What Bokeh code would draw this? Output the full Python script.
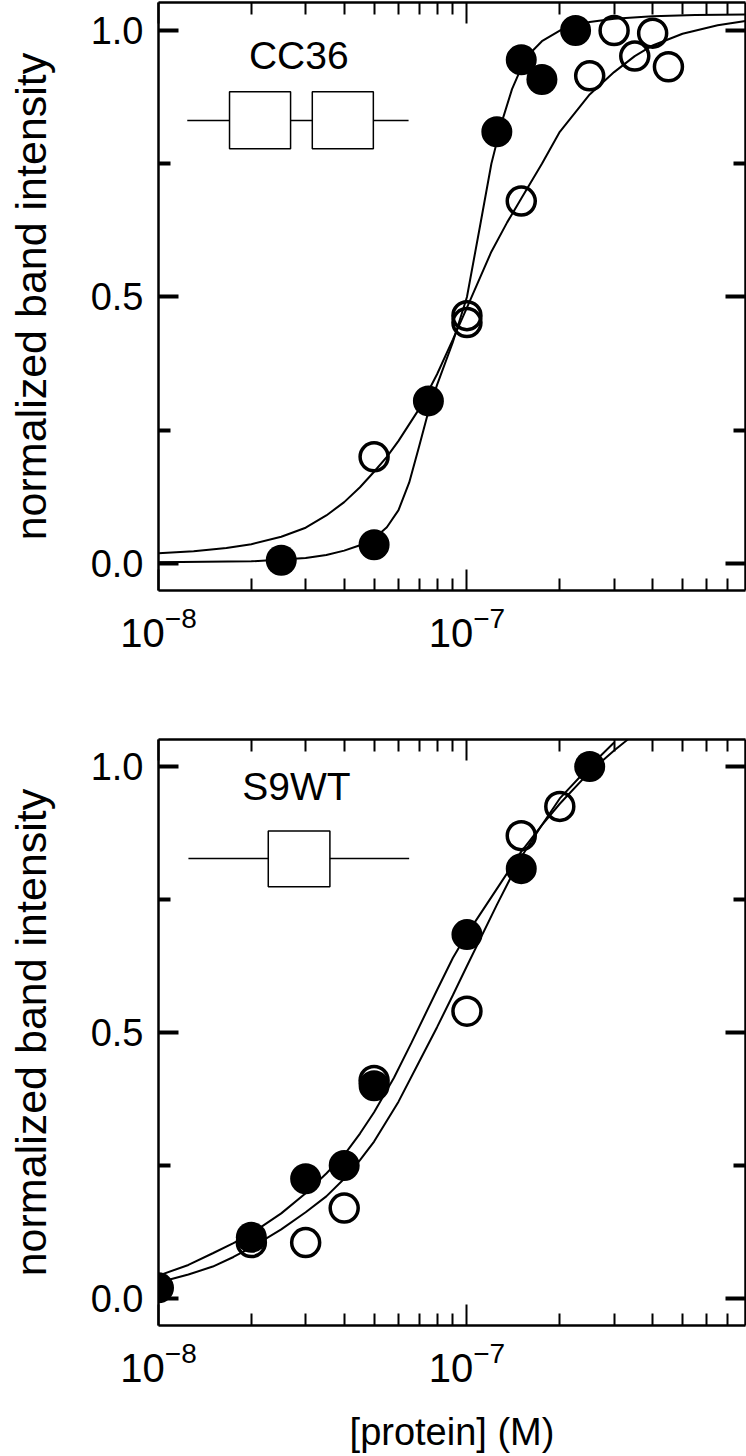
from bokeh.plotting import figure
from bokeh.models import (Range1d, LinearAxis, LogAxis, FixedTicker,
                          PrintfTickFormatter, LinearScale)
from bokeh.layouts import column
from bokeh.embed import file_html
from bokeh.resources import INLINE
from bokeh.core.properties import value

FONT = "Liberation Sans"

# ---------------- data ----------------
# Panel 1: CC36
cc36_filled_x = [2.5e-8, 5.0e-8, 7.5e-8, 1.25e-7, 1.5e-7, 1.75e-7, 2.25e-7]
cc36_filled_y = [0.006, 0.035, 0.305, 0.81, 0.945, 0.908, 1.0]
cc36_open_x = [5.0e-8, 1.0e-7, 1.0e-7, 1.5e-7, 2.5e-7, 3.0e-7, 3.5e-7, 4.0e-7, 4.5e-7]
cc36_open_y = [0.20, 0.465, 0.452, 0.68, 0.915, 1.0, 0.952, 0.995, 0.932]
cc36_fit_filled_x = [1.0e-8, 2.0e-8, 3.0e-8, 3.5e-8, 4.0e-8, 4.5e-8, 5.0e-8, 5.5e-8,
                     6.0e-8, 6.5e-8, 7.0e-8, 7.5e-8, 8.0e-8, 9.0e-8, 1.0e-7, 1.1e-7,
                     1.2e-7, 1.3e-7, 1.4e-7, 1.5e-7, 1.6e-7, 1.75e-7, 2.0e-7, 2.5e-7,
                     3.0e-7, 4.0e-7, 5.5e-7, 8.0e-7]
cc36_fit_filled_y = [0.002, 0.004, 0.010, 0.016, 0.024, 0.034, 0.047, 0.068,
                     0.100, 0.152, 0.220, 0.285, 0.335, 0.415, 0.500, 0.630,
                     0.750, 0.830, 0.890, 0.930, 0.957, 0.980, 1.000, 1.016,
                     1.022, 1.027, 1.029, 1.030]
cc36_fit_open_x = [1.0e-8, 1.3e-8, 1.66e-8, 2.0e-8, 2.5e-8, 3.0e-8, 3.5e-8, 4.0e-8,
                   4.5e-8, 5.0e-8, 5.5e-8, 6.0e-8, 7.0e-8, 8.0e-8, 9.0e-8, 1.0e-7,
                   1.1e-7, 1.2e-7, 1.35e-7, 1.5e-7, 1.75e-7, 2.0e-7, 2.5e-7, 3.0e-7,
                   3.5e-7, 4.0e-7, 5.0e-7, 6.5e-7, 8.0e-7]
cc36_fit_open_y = [0.019, 0.023, 0.029, 0.036, 0.050, 0.067, 0.090, 0.115,
                   0.143, 0.172, 0.200, 0.230, 0.290, 0.355, 0.420, 0.480,
                   0.535, 0.585, 0.640, 0.685, 0.750, 0.810, 0.880, 0.922,
                   0.952, 0.972, 0.994, 1.010, 1.018]

# Panel 2: S9WT
s9wt_filled_x = [1.0e-8, 2.0e-8, 3.0e-8, 4.0e-8, 5.0e-8, 1.0e-7, 1.5e-7, 2.5e-7]
s9wt_filled_y = [0.02, 0.115, 0.225, 0.25, 0.40, 0.684, 0.808, 1.0]
s9wt_open_x = [2.0e-8, 3.0e-8, 4.0e-8, 5.0e-8, 1.0e-7, 1.5e-7, 2.0e-7]
s9wt_open_y = [0.105, 0.105, 0.17, 0.41, 0.54, 0.87, 0.925]
s9wt_fit_filled_x = [1.0e-8, 1.25e-8, 1.5e-8, 1.75e-8, 2.0e-8, 2.5e-8, 3.0e-8, 3.5e-8,
                     4.0e-8, 4.5e-8, 5.0e-8, 5.8e-8, 6.6e-8, 8.0e-8, 9.0e-8, 1.0e-7,
                     1.25e-7, 1.5e-7, 1.75e-7, 2.0e-7, 2.5e-7, 3.0e-7, 3.36e-7]
s9wt_fit_filled_y = [0.043, 0.063, 0.085, 0.104, 0.122, 0.160, 0.198, 0.235,
                     0.270, 0.310, 0.350, 0.415, 0.480, 0.580, 0.640, 0.685,
                     0.770, 0.840, 0.890, 0.930, 0.990, 1.030, 1.053]
s9wt_fit_open_x = [1.0e-8, 1.25e-8, 1.5e-8, 1.75e-8, 2.0e-8, 2.5e-8, 3.0e-8, 3.5e-8,
                   4.0e-8, 4.5e-8, 5.0e-8, 6.0e-8, 7.0e-8, 8.0e-8, 9.0e-8, 1.0e-7,
                   1.25e-7, 1.5e-7, 1.75e-7, 2.0e-7, 2.5e-7, 3.0e-7]
s9wt_fit_open_y = [0.030, 0.045, 0.060, 0.078, 0.096, 0.130, 0.162, 0.192,
                   0.225, 0.260, 0.295, 0.370, 0.445, 0.510, 0.570, 0.625,
                   0.740, 0.830, 0.890, 0.940, 1.000, 1.045]

# ticks / labels
x_major_ticks = [1e-8, 1e-7]
x_minor_ticks = [2e-8, 3e-8, 4e-8, 5e-8, 6e-8, 7e-8, 8e-8, 9e-8,
                 2e-7, 3e-7, 4e-7, 5e-7, 6e-7, 7e-7]
y_major_ticks = [0.0, 0.5, 1.0]
y_minor_ticks = [0.25, 0.75]
y_label_text = "normalized band intensity"
x_label_text = "[protein] (M)"
panel_names = ["CC36", "S9WT"]

# ---------------- layout constants ----------------
X_MIN, X_MAX = 1e-8, 8e-7
WIDTH = 746


def style_x(ax, labels):
    ax.ticker = FixedTicker(ticks=x_major_ticks, minor_ticks=x_minor_ticks)
    ax.axis_line_width = 2.5
    ax.axis_line_color = "black"
    ax.major_tick_in = 21
    ax.major_tick_out = 0
    ax.minor_tick_in = 12
    ax.minor_tick_out = 0
    ax.major_tick_line_width = 2
    ax.minor_tick_line_width = 2
    ax.major_tick_line_color = "black"
    ax.minor_tick_line_color = "black"
    if labels:
        ax.major_label_text_font = FONT
        ax.major_label_text_font_size = "40px"
        ax.major_label_text_color = "black"
        ax.major_label_standoff = 15
    else:
        ax.major_label_text_font_size = "1px"
        ax.major_label_text_alpha = 0
        ax.major_label_standoff = 0


def style_y(ax, labels):
    ax.ticker = FixedTicker(ticks=y_major_ticks, minor_ticks=y_minor_ticks)
    ax.formatter = PrintfTickFormatter(format="%.1f")
    ax.axis_line_width = 2.5
    ax.axis_line_color = "black"
    ax.major_tick_in = 20
    ax.major_tick_out = 0
    ax.minor_tick_in = 12
    ax.minor_tick_out = 0
    ax.major_tick_line_width = 4
    ax.minor_tick_line_width = 4
    ax.major_tick_line_color = "black"
    ax.minor_tick_line_color = "black"
    if labels:
        ax.major_label_text_font = FONT
        ax.major_label_text_font_size = "38px"
        ax.major_label_text_color = "black"
        ax.major_label_standoff = 15
        ax.axis_label = y_label_text
        ax.axis_label_text_font = FONT
        ax.axis_label_text_font_size = "43px"
        ax.axis_label_text_font_style = "normal"
        ax.axis_label_text_color = "black"
        ax.axis_label_standoff = 33
    else:
        ax.major_label_text_font_size = "1px"
        ax.major_label_text_alpha = 0
        ax.major_label_standoff = 0


def build(height, y0, y1, min_bottom, fit_f, fit_o, pts_f, pts_o,
          name, name_xy, diag_line, diag_boxes, with_xlabel):
    p = figure(width=WIDTH, height=height, x_axis_type="log",
               x_range=Range1d(X_MIN, X_MAX), y_range=Range1d(y0, y1),
               output_backend="svg", toolbar_location=None,
               min_border_left=158, min_border_right=1, min_border_top=2,
               min_border_bottom=min_bottom)
    p.extra_x_ranges = {"frac": Range1d(0, 1)}
    p.extra_x_scales = {"frac": LinearScale()}
    p.outline_line_color = None
    p.xgrid.visible = False
    p.ygrid.visible = False
    p.background_fill_color = "white"
    p.border_fill_color = "white"

    bottom_ax = p.below[0]
    left_ax = p.left[0]
    style_x(bottom_ax, True)
    style_y(left_ax, True)
    if with_xlabel:
        bottom_ax.axis_label = x_label_text
        bottom_ax.axis_label_text_font = FONT
        bottom_ax.axis_label_text_font_size = "38px"
        bottom_ax.axis_label_text_font_style = "normal"
        bottom_ax.axis_label_text_color = "black"
        bottom_ax.axis_label_standoff = 26

    top = LogAxis()
    style_x(top, False)
    p.add_layout(top, "above")
    right = LinearAxis()
    style_y(right, False)
    p.add_layout(right, "right")

    # fitted curves
    p.line(fit_f[0], fit_f[1], line_color="black", line_width=2)
    p.line(fit_o[0], fit_o[1], line_color="black", line_width=2)
    # points
    p.scatter(pts_o[0], pts_o[1], marker="circle", size=28, fill_color=None,
              line_color="black", line_width=3.5)
    p.scatter(pts_f[0], pts_f[1], marker="circle", size=31, fill_color="black",
              line_color=None)

    # protein diagram + name
    p.segment(x0=[diag_line[0]], y0=[diag_line[2]], x1=[diag_line[1]], y1=[diag_line[2]],
              line_color="black", line_width=1.5, x_range_name="frac")
    p.quad(left=[b[0] for b in diag_boxes], right=[b[1] for b in diag_boxes],
           bottom=[b[2] for b in diag_boxes], top=[b[3] for b in diag_boxes],
           fill_color="white", line_color="black", line_width=1.5, x_range_name="frac")
    p.text(x=[name_xy[0]], y=[name_xy[1]], text=[name], x_range_name="frac",
           text_font=value(FONT), text_font_size=value("39px"), text_color="black",
           text_align="center", text_baseline="middle")
    return p


p1 = build(737, -0.0508, 1.0526, 147,
           (cc36_fit_filled_x, cc36_fit_filled_y), (cc36_fit_open_x, cc36_fit_open_y),
           (cc36_filled_x, cc36_filled_y), (cc36_open_x, cc36_open_y),
           panel_names[0], (0.239, 0.953),
           (0.049, 0.426, 0.831),
           [(0.121, 0.225, 0.778, 0.885), (0.262, 0.366, 0.778, 0.885)],
           False)
p2 = build(718, -0.0508, 1.0508, 130,
           (s9wt_fit_filled_x, s9wt_fit_filled_y), (s9wt_fit_open_x, s9wt_fit_open_y),
           (s9wt_filled_x, s9wt_filled_y), (s9wt_open_x, s9wt_open_y),
           panel_names[1], (0.235, 0.962),
           (0.051, 0.427, 0.827),
           [(0.187, 0.292, 0.774, 0.879)],
           True)

layout = column(p1, p2, spacing=0)
open("out.html", "w").write(file_html(layout, INLINE))
